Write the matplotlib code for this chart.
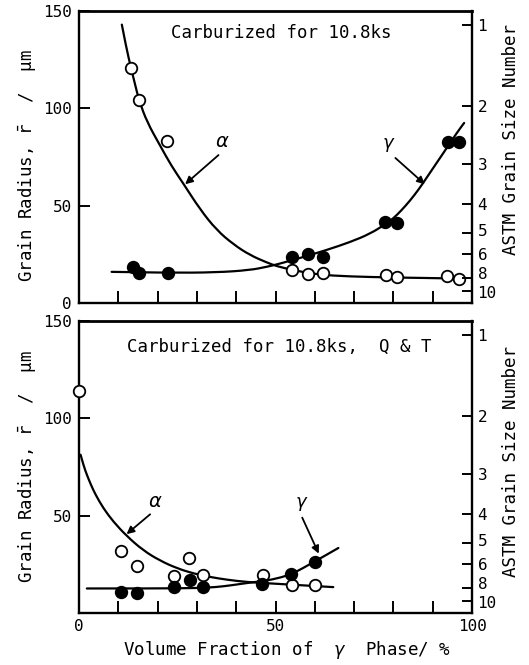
import matplotlib
matplotlib.use('Agg')
import matplotlib.pyplot as plt
from matplotlib.transforms import ScaledTranslation
from matplotlib.path import Path
from matplotlib.patches import PathPatch

plt.rcParams['font.family'] = ['DejaVu Sans Mono', 'DejaVu Sans']
plt.rcParams['mathtext.fontset'] = 'dejavusans'

# ---------------- data: top panel (carburized 10.8 ks) ----------------
top_alpha_x = [13.2, 15.3, 22.3, 54.1, 58.2, 62.2, 78.1, 81.0, 93.7, 96.8]
top_alpha_y = [120.8, 104.1, 83.0, 17.2, 14.8, 15.2, 14.3, 13.4, 13.8, 12.1]
top_gamma_x = [13.7, 15.3, 22.6, 54.1, 58.3, 62.0, 77.9, 80.8, 94.0, 96.8]
top_gamma_y = [18.6, 15.5, 15.5, 23.4, 25.1, 23.4, 41.8, 41.2, 82.5, 82.5]

top_alpha_curve_x = [10.9, 12.0, 13.2, 14.3, 15.3, 17.3, 20.6, 23.5, 26.5, 30.8, 35.0, 39.3,
                     43.5, 47.8, 50.3, 54.5, 60.5, 69.0, 80.0, 90.0, 97.7]
top_alpha_curve_y = [143.0, 131.5, 121.0, 112.0, 104.0, 93.0, 81.0, 70.5, 61.5, 48.1, 37.5, 30.1,
                     24.6, 20.8, 18.9, 16.9, 14.6, 13.6, 13.1, 12.8, 12.5]
top_gamma_curve_x = [8.3, 22.3, 35.0, 43.5, 47.8, 50.3, 53.0, 56.2, 63.0, 69.0, 74.0, 78.0,
                     80.0, 82.0, 84.2, 86.5, 88.5, 92.7, 96.1, 98.0]
top_gamma_curve_y = [16.0, 15.5, 15.7, 16.9, 18.6, 19.8, 21.3, 23.1, 27.2, 31.3, 35.5, 40.5,
                     43.5, 47.5, 52.5, 58.5, 64.5, 77.0, 87.3, 92.5]

# ---------------- data: bottom panel (carburized 10.8 ks, Q & T) ----------------
bot_alpha_x = [0.0, 10.8, 14.7, 24.2, 28.1, 31.5, 46.8, 54.2, 60.0]
bot_alpha_y = [113.8, 32.0, 24.3, 19.2, 28.0, 19.4, 19.7, 14.3, 14.3]
bot_gamma_x = [10.8, 14.8, 24.3, 28.2, 31.6, 46.6, 54.0, 60.1]
bot_gamma_y = [10.7, 10.2, 13.6, 17.2, 13.3, 15.0, 20.1, 26.2]

bot_alpha_curve_x = [0.4, 1.2, 2.0, 3.0, 4.2, 6.2, 8.7, 12.1, 16.3, 20.6, 24.9, 29.1, 33.3,
                     37.6, 42.7, 50.3, 54.5, 64.7]
bot_alpha_curve_y = [81.3, 75.5, 71.0, 66.0, 60.8, 53.8, 47.0, 39.6, 32.2, 26.9, 23.0, 20.3,
                     18.5, 17.1, 15.9, 15.0, 14.5, 13.3]
bot_gamma_curve_x = [2.0, 20.0, 30.0, 35.0, 39.0, 42.7, 46.0, 50.3, 54.5, 59.6, 66.0]
bot_gamma_curve_y = [12.6, 12.6, 12.8, 13.3, 14.3, 15.4, 16.2, 17.6, 20.3, 26.0, 33.4]

# ASTM grain size number scale (right axis)
astm_labels = ['1', '2', '3', '4', '5', '6', '8', '10']
astm_pos = [143.0, 101.0, 71.5, 50.6, 35.8, 25.3, 12.6, 6.3]
astm_label_shift_px = {'5': 3, '8': 5, '10': -1}

x_ticks = [0, 10, 20, 30, 40, 50, 60, 70, 80, 90, 100]
y_ticks = [0, 50, 100, 150]

fig = plt.figure(figsize=(5.29, 6.65), dpi=100)
W, H = 529.0, 665.0
ax_top = fig.add_axes([79 / W, 1 - 303 / H, 393 / W, 292 / H])
ax_bot = fig.add_axes([79 / W, 1 - 613 / H, 393 / W, 292 / H])

FS = 11.5
LFS = 12.6
lw_curve = 1.6


def style(ax, bottom_labels, left_labels):
    ax.set_xlim(0, 100)
    ax.set_ylim(0, 150)
    for s in ax.spines.values():
        s.set_linewidth(1.7)
    ax.spines['top'].set_linewidth(2.0)
    ax.set_xticks(x_ticks)
    ax.set_xticklabels(bottom_labels)
    ax.set_yticks(y_ticks)
    ax.set_yticklabels(left_labels)
    ax.tick_params(axis='x', direction='in', length=8.5, width=1.4, pad=4, labelsize=FS)
    ax.tick_params(axis='y', direction='in', length=8, width=1.4, pad=5, labelsize=FS)
    ax2 = ax.twinx()
    ax2.set_ylim(0, 150)
    ax2.set_yticks(astm_pos)
    ax2.set_yticklabels(astm_labels)
    ax2.tick_params(axis='y', direction='in', length=7.5, width=1.4, pad=4, labelsize=FS)
    for s in ax2.spines.values():
        s.set_visible(False)
    for tick, lab in zip(ax2.yaxis.get_major_ticks(), astm_labels):
        dy = astm_label_shift_px.get(lab, 0)
        if dy:
            tick.label2.set_transform(tick.label2.get_transform() +
                                      ScaledTranslation(0, dy / 100.0, fig.dpi_scale_trans))
    return ax2


def smooth_curve(ax, xs, ys):
    """Draw a smooth quadratic-Bezier path guided by the read curve points."""
    pts = list(zip(xs, ys))
    verts = [pts[0]]
    codes = [Path.MOVETO]
    for i in range(1, len(pts) - 1):
        mid = ((pts[i][0] + pts[i + 1][0]) / 2.0, (pts[i][1] + pts[i + 1][1]) / 2.0)
        verts += [pts[i], mid]
        codes += [Path.CURVE3, Path.CURVE3]
    verts.append(pts[-1])
    codes.append(Path.LINETO)
    patch = PathPatch(Path(verts, codes), facecolor='none', edgecolor='black',
                      lw=lw_curve, zorder=3, capstyle='round', joinstyle='round')
    ax.add_patch(patch)


mk = dict(markersize=8.3, markeredgewidth=1.3, markeredgecolor='black',
          linestyle='none', clip_on=False, zorder=5)
arrow = dict(arrowstyle='-|>', color='black', lw=1.3, mutation_scale=11, shrinkA=0, shrinkB=0)

# ---------- top panel ----------
ax2t = style(ax_top, [''] * 11, ['0', '50', '100', '150'])
smooth_curve(ax_top, top_alpha_curve_x, top_alpha_curve_y)
smooth_curve(ax_top, top_gamma_curve_x, top_gamma_curve_y)
ax_top.plot(top_alpha_x, top_alpha_y, marker='o', markerfacecolor='white', **mk)
ax_top.plot(top_gamma_x, top_gamma_y, marker='o', markerfacecolor='black', **mk)
ax_top.text(51.5, 138.5, 'Carburized for 10.8ks', ha='center', va='center', fontsize=12.5)
ax_top.annotate('', xy=(27.0, 61.0), xytext=(35.5, 76.0), arrowprops=arrow)
ax_top.text(36.5, 83.0, r'$\alpha$', ha='center', va='center', fontsize=14)
ax_top.annotate('', xy=(88.0, 61.0), xytext=(80.5, 74.5), arrowprops=arrow)
ax_top.text(78.8, 81.0, r'$\gamma$', ha='center', va='center', fontsize=13)
ax_top.set_ylabel(r'Grain Radius, $\bar{\mathtt{r}}$  /  µm', fontsize=LFS, va='center')
ax_top.yaxis.set_label_coords(-0.132, 0.47)
ax2t.set_ylabel('ASTM Grain Size Number', fontsize=LFS, rotation=90, va='center')
ax2t.yaxis.set_label_coords(1.099, 0.56)

# ---------- bottom panel ----------
ax2b = style(ax_bot, ['0', '', '', '', '', '50', '', '', '', '', '100'], ['', '50', '100', '150'])
smooth_curve(ax_bot, bot_alpha_curve_x, bot_alpha_curve_y)
smooth_curve(ax_bot, bot_gamma_curve_x, bot_gamma_curve_y)
ax_bot.plot(bot_alpha_x, bot_alpha_y, marker='o', markerfacecolor='white', **mk)
ax_bot.plot(bot_gamma_x, bot_gamma_y, marker='o', markerfacecolor='black', **mk)
ax_bot.text(51.0, 136.6, 'Carburized for 10.8ks,  Q & T', ha='center', va='center', fontsize=12.5)
ax_bot.annotate('', xy=(12.1, 40.5), xytext=(18.1, 50.7), arrowprops=arrow)
ax_bot.text(19.5, 57.5, r'$\alpha$', ha='center', va='center', fontsize=14)
ax_bot.annotate('', xy=(61.0, 30.5), xytext=(56.8, 49.0), arrowprops=arrow)
ax_bot.text(56.7, 56.0, r'$\gamma$', ha='center', va='center', fontsize=13)
ax_bot.set_ylabel(r'Grain Radius, $\bar{\mathtt{r}}$  /  µm', fontsize=LFS, va='center')
ax_bot.yaxis.set_label_coords(-0.132, 0.5)
ax2b.set_ylabel('ASTM Grain Size Number', fontsize=LFS, rotation=90, va='center')
ax2b.yaxis.set_label_coords(1.099, 0.52)
ax_bot.set_xlabel(r'Volume Fraction of  $\gamma$  Phase/ %', fontsize=LFS)
ax_bot.xaxis.set_label_coords(0.53, -0.128)
ax_bot.xaxis.label.set_va('center')

fig.savefig('out.png', dpi=100)
